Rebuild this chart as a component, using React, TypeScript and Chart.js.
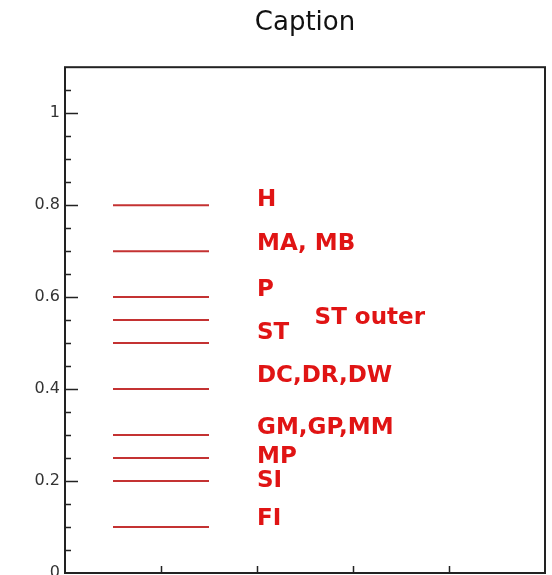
import React, { useEffect, useRef } from "react";
import { Chart, registerables } from "chart.js";

Chart.register(...registerables);

// Horizontal segment levels (y values)
const levels = [0.8, 0.7, 0.6, 0.55, 0.5, 0.4, 0.3, 0.25, 0.2, 0.1];
const segStart = 0.5;
const segEnd = 1.5;

// Text labels
const labelTexts = ["H", "MA, MB", "P", "ST", "ST outer", "DC,DR,DW", "GM,GP,MM", "MP", "SI", "FI"];
const labelX = [2, 2, 2, 2, 2.6, 2, 2, 2, 2, 2];
const labelY = [0.812, 0.715, 0.615, 0.522, 0.554, 0.428, 0.315, 0.252, 0.2, 0.117];

const xTicks = [1, 2, 3, 4];
const yMin = 0;
const yMax = 1.1;
const yStep = 0.05;
const yLabelStep = 0.2;
const titleText = "Caption";

const LINE_COLOR = "#c43232";
const TEXT_COLOR = "#e01414";

const isLabelled = (v: number) => Math.abs(v / yLabelStep - Math.round(v / yLabelStep)) < 1e-6;

const decorPlugin = {
  id: "decor",
  afterDraw(chart: any) {
    const { ctx, chartArea, scales } = chart;
    const xs = scales.x;
    const ys = scales.y;
    ctx.save();
    // labels
    ctx.fillStyle = TEXT_COLOR;
    ctx.font = "bold 23px 'DejaVu Sans'";
    ctx.textAlign = "left";
    ctx.textBaseline = "middle";
    labelTexts.forEach((t, i) => {
      ctx.fillText(t, xs.getPixelForValue(labelX[i]), ys.getPixelForValue(labelY[i]));
    });
    // inward ticks
    ctx.strokeStyle = "#222";
    ctx.lineWidth = 1.5;
    ctx.beginPath();
    ys.ticks.forEach((tk: any) => {
      const v = tk.value;
      if (v <= yMin + 1e-9 || v >= yMax - 1e-9) return;
      const py = Math.round(ys.getPixelForValue(v)) + 0.5;
      const len = isLabelled(v) ? 13 : 6;
      ctx.moveTo(chartArea.left, py);
      ctx.lineTo(chartArea.left + len, py);
    });
    xTicks.forEach((v) => {
      const px = Math.round(xs.getPixelForValue(v)) + 0.5;
      ctx.moveTo(px, chartArea.bottom);
      ctx.lineTo(px, chartArea.bottom - 7);
    });
    ctx.stroke();
    // frame
    ctx.lineWidth = 2;
    ctx.strokeRect(chartArea.left, chartArea.top, chartArea.right - chartArea.left, chartArea.bottom - chartArea.top);
    ctx.restore();
  },
};

export default function App() {
  const ref = useRef<HTMLCanvasElement | null>(null);
  useEffect(() => {
    if (!ref.current) return;
    const datasets = levels.map((lv) => ({
      data: [
        { x: segStart, y: lv },
        { x: segEnd, y: lv },
      ],
      showLine: true,
      borderColor: LINE_COLOR,
      borderWidth: 2,
      pointRadius: 0,
      fill: false,
    }));
    const chart = new Chart(ref.current, {
      type: "scatter",
      data: { datasets },
      options: {
        animation: false,
        responsive: false,
        devicePixelRatio: 1,
        layout: { padding: { left: 0, right: 7, top: 0, bottom: 0 } },
        plugins: {
          legend: { display: false },
          tooltip: { enabled: false },
          title: {
            display: true,
            text: titleText,
            fullSize: false,
            color: "#111",
            font: { family: "'DejaVu Sans'", size: 26, weight: "normal" },
            padding: { top: 8, bottom: 28 },
          },
        },
        scales: {
          x: {
            type: "linear",
            min: 0,
            max: 5,
            grid: { display: false, drawTicks: false },
            border: { display: false },
            ticks: { display: false },
            afterFit: (s: any) => {
              s.height = 2;
              s.paddingLeft = 0;
              s.paddingRight = 0;
            },
          },
          y: {
            type: "linear",
            min: yMin,
            max: yMax,
            grid: { display: false, drawTicks: false },
            border: { display: false },
            afterFit: (s: any) => {
              s.width = 65;
              s.paddingTop = 0;
              s.paddingBottom = 0;
            },
            ticks: {
              stepSize: yStep,
              autoSkip: false,
              maxTicksLimit: 100,
              padding: 5,
              color: "#333",
              font: { family: "'DejaVu Sans'", size: 16 },
              callback: (v: any) => {
                const n = Number(v);
                return isLabelled(n) ? String(Math.round(n * 10) / 10) : "";
              },
            },
          },
        },
      },
      plugins: [decorPlugin],
    });
    return () => chart.destroy();
  }, []);
  return (
    <div style={{ position: "absolute", left: 0, top: 0, width: 552, height: 575, background: "#fff" }}>
      <canvas ref={ref} width={552} height={575} style={{ display: "block" }} />
    </div>
  );
}
